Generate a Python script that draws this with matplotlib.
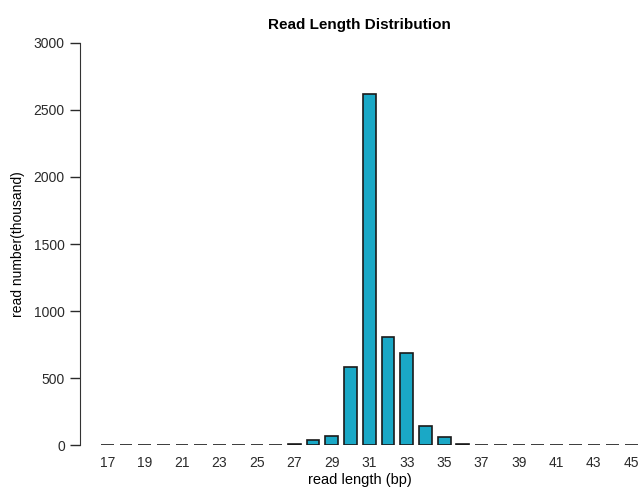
import matplotlib
matplotlib.use("Agg")
import matplotlib.pyplot as plt
import numpy as np

read_length = np.arange(17, 46)
counts = [3, 3, 3, 3, 3, 3, 3, 3, 3, 3,
          7, 35, 65, 580, 2620, 810, 690, 145, 62, 12,
          3, 3, 3, 3, 3, 3, 3, 3, 3]
tick_labels = [str(v) for v in range(17, 46, 2)]

plt.rcParams["font.family"] = ["Liberation Sans", "DejaVu Sans"]

fig = plt.figure(figsize=(6.41, 4.93), dpi=100)
ax = fig.add_axes([0.125, 0.097, 0.873, 0.816])
ax.bar(read_length, counts, width=0.68, color="#1aa8c6", edgecolor="#1a1a1a", linewidth=1.2)

ax.set_xlim(15.55, 45.45)
ax.set_ylim(0, 3000)
ax.set_yticks([0, 500, 1000, 1500, 2000, 2500, 3000])
ax.set_xticks(range(17, 46, 2))
ax.set_xticklabels(tick_labels)
ax.tick_params(axis="x", length=0, labelsize=10, pad=8, colors="#2a2a2a")
ax.tick_params(axis="y", length=7, width=1, labelsize=10, pad=4, colors="#2a2a2a", direction="out")

for s in ["top", "right", "bottom"]:
    ax.spines[s].set_visible(False)
ax.spines["left"].set_color("#333333")

ax.set_title("Read Length Distribution", fontsize=11, fontweight="bold", pad=10)
ax.set_xlabel("read length (bp)", fontsize=10.5, labelpad=2)
ax.set_ylabel("read number(thousand)", fontsize=10, labelpad=6)

fig.savefig("out.png", dpi=100)
